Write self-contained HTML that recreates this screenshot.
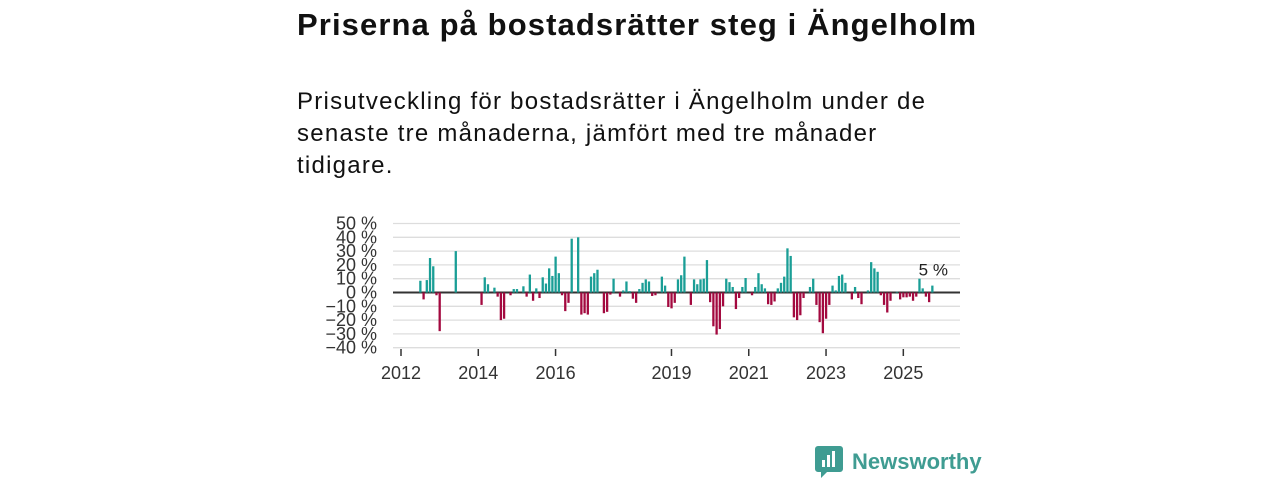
<!DOCTYPE html>
<html><head><meta charset="utf-8"><style>
body{margin:0;width:1280px;height:480px;background:#fff;font-family:"Liberation Sans",sans-serif;overflow:hidden;position:relative}
.t{position:absolute;left:297px;top:7px;font-size:31px;font-weight:bold;color:#111;letter-spacing:1.1px;white-space:nowrap}
.s{position:absolute;left:297px;top:86px;font-size:24px;line-height:32px;color:#111;letter-spacing:1.25px;white-space:nowrap}
svg{position:absolute;left:0;top:0}
.lg{position:absolute;left:815px;top:446px;display:flex;align-items:center}
.lg span{font-size:22px;font-weight:bold;color:#3f9c92;margin-left:9px}
</style></head><body>
<div class="t">Priserna på bostadsrätter steg i Ängelholm</div>
<div class="s">Prisutveckling för bostadsrätter i Ängelholm under de<br>senaste tre månaderna, jämfört med tre månader<br>tidigare.</div>
<svg id="c" width="1280" height="480"></svg>
<div class="lg">
<svg width="28" height="32" style="position:static"><path d="M0 3a3 3 0 0 1 3-3h22a3 3 0 0 1 3 3v20a3 3 0 0 1-3 3H12l-6 6v-6H3a3 3 0 0 1-3-3z" fill="#3f9c92"/><rect x="7" y="14" width="3" height="7" fill="#fff"/><rect x="12" y="9" width="3" height="12" fill="#fff"/><rect x="17" y="5" width="3" height="16" fill="#fff"/></svg>
<span>Newsworthy</span></div>
<script>
const monthIdx=[6,7,8,9,10,11,12,17,25,26,27,29,30,31,32,34,35,36,38,39,40,41,42,43,44,45,46,47,48,49,50,51,52,53,55,56,57,58,59,60,61,63,64,65,66,68,69,70,71,72,73,74,75,76,77,78,79,81,82,83,84,85,86,87,88,90,91,92,93,94,95,96,97,98,99,100,101,102,103,104,105,106,107,109,110,111,112,113,114,115,116,117,118,119,120,121,122,123,124,125,127,128,129,130,131,132,133,134,135,136,137,138,140,141,142,143,145,146,147,148,149,150,151,152,154,155,156,157,158,159,160,161,162,163,164,165];
const values=[8.5,-5,9,25,19,-2,-28,30,-9,11,6,3.5,-3,-20,-19,-2,2.5,2.5,4.5,-3,13,-6,3,-4,11,6.5,17.5,12,26,14,-2,-13.5,-7.5,39,40,-16,-15,-16,11.5,14,16.5,-15,-14,-1.5,10,-3,1.5,8,1,-4.5,-7.5,2.5,7,9.5,8,-2.5,-2,11.5,5,-10.5,-11.5,-7.5,9.5,12.5,26,-9,9.5,6,9.5,10,23.5,-7,-24.5,-30.5,-26.5,-10,10,7.5,4,-12,-4,4,10.5,-2,4,14,6,3,-8.5,-9,-6.5,3,7,11.5,32,26.5,-18,-20,-16.5,-4,4,10,-9,-21.5,-29.5,-19,-9,5,1.5,12,13,7,-5,4,-4,-8.5,1.5,22,17.5,15,-2,-9,-14.5,-6,0.5,-5,-3.5,-3.5,-3,-6,-3,10,3,-3,-7,5];
const yTicks=[50,40,30,20,10,0,-10,-20,-30,-40];
const years=[2012,2014,2016,2019,2021,2023,2025];
const lastLabel="5 %";
const NS="http://www.w3.org/2000/svg",svg=document.getElementById('c');
const x=m=>401+m*3.22, y=v=>292.5-v*1.38;
function mk(t,a){const e=document.createElementNS(NS,t);for(const k in a)e.setAttribute(k,a[k]);svg.appendChild(e);return e;}
yTicks.forEach(v=>{
 const g=mk('line',{x1:393,x2:960,y1:y(v),y2:y(v),stroke:v===0?'#333':'#ddd','stroke-width':v===0?2:1.3});
 
 
 const t=mk('text',{x:377,y:y(v)+6,'text-anchor':'end','font-size':18,fill:'#333','font-family':'Liberation Sans, sans-serif'});
 t.textContent=(v<0?'−'+(-v):v)+' %';
 
 
});
values.forEach((v,i)=>{
 const b=mk('rect',{x:x(monthIdx[i])-1.1,width:2.3,y:Math.min(y(v),y(0)),height:Math.abs(y(v)-y(0)),fill:v>=0?'#1a9e96':'#a3093f'});
 
 
});
years.forEach(yr=>{
 const m=(yr-2012)*12;
 const l=mk('line',{x1:x(m),x2:x(m),y1:349,y2:356,stroke:'#333','stroke-width':1.5});
 
 
 const t=mk('text',{x:x(m),y:379,'text-anchor':'middle','font-size':18,fill:'#333','font-family':'Liberation Sans, sans-serif'});
 t.textContent=yr;
 
 
});
const lt=mk('text',{x:x(monthIdx[monthIdx.length-1])+1,y:y(values[values.length-1])-10,'text-anchor':'middle','font-size':17,fill:'#222','font-family':'Liberation Sans, sans-serif'});
lt.textContent=lastLabel;


</script>
</body></html>
